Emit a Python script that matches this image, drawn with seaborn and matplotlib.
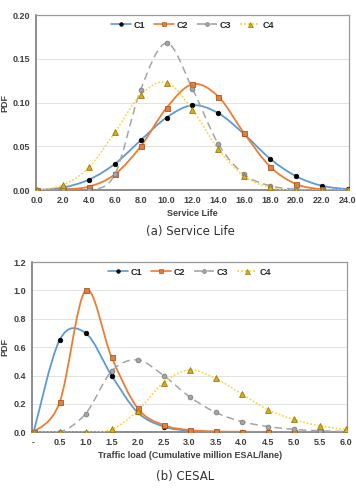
import numpy as np
import pandas as pd
import matplotlib
matplotlib.use('Agg')
import matplotlib.pyplot as plt
import seaborn as sns
from matplotlib.path import Path
from matplotlib.patches import PathPatch
from matplotlib.lines import Line2D

# ---- data ----
series = ['C1', 'C2', 'C3', 'C4']

life_x = [0, 2, 4, 6, 8, 10, 12, 14, 16, 18, 20, 22, 24]
life_c1 = [0.000, 0.003, 0.012, 0.030, 0.057, 0.083, 0.097, 0.088, 0.064, 0.036, 0.016, 0.005, 0.001]
life_c2 = [0.000, 0.001, 0.004, 0.018, 0.050, 0.094, 0.121, 0.107, 0.065, 0.027, 0.007, 0.001, 0.000]
life_c3 = [0.000, 0.000, 0.000, 0.018, 0.115, 0.168, 0.116, 0.053, 0.018, 0.005, 0.001, 0.000, 0.000]
life_c4 = [0.000, 0.006, 0.026, 0.066, 0.109, 0.123, 0.092, 0.047, 0.016, 0.003, 0.000, 0.000, 0.000]
life_ticks = ['0.0', '2.0', '4.0', '6.0', '8.0', '10.0', '12.0', '14.0', '16.0',
              '18.0', '20.0', '22.0', '24.0']

esal_x = [0, 0.5, 1.0, 1.5, 2.0, 2.5, 3.0, 3.5, 4.0, 4.5, 5.0, 5.5, 6.0]
esal_c1 = [0.00, 0.65, 0.70, 0.40, 0.14, 0.04, 0.01, 0.002, 0.0, 0.0, 0.0, 0.0, 0.0]
esal_c2 = [0.00, 0.21, 1.00, 0.53, 0.17, 0.05, 0.015, 0.005, 0.003, 0.002, 0.002, 0.002, 0.002]
esal_c3 = [0.00, 0.00, 0.13, 0.43, 0.51, 0.40, 0.25, 0.14, 0.075, 0.04, 0.02, 0.01, 0.005]
esal_c4 = [0.00, 0.00, 0.00, 0.02, 0.15, 0.35, 0.44, 0.38, 0.27, 0.16, 0.09, 0.045, 0.02]
esal_ticks = ['-', '0.5', '1.0', '1.5', '2.0', '2.5', '3.0', '3.5', '4.0', '4.5', '5.0', '5.5', '6.0']

# styles
line_col = {'C1': '#5B9BD5', 'C2': '#ED7D31', 'C3': '#A5A5A5', 'C4': '#FFD23F'}
line_ls = {'C1': '-', 'C2': '-', 'C3': (0, (5, 3)), 'C4': (0, (1.2, 1.2))}
mk = {'C1': 'o', 'C2': 's', 'C3': 'o', 'C4': '^'}
mk_face = {'C1': '#000000', 'C2': '#E08040', 'C3': '#A5A5A5', 'C4': '#D4AE1E'}
mk_edge = {'C1': '#000000', 'C2': '#B0561E', 'C3': '#7F7F7F', 'C4': '#9C7A0C'}
mk_size = {'C1': 3.2, 'C2': 3.6, 'C3': 3.4, 'C4': 4.2}

sns.set_theme(style='white')
plt.rcParams['font.family'] = ['Liberation Sans', 'DejaVu Sans']
fs = 6.5


def smooth_path(x, y):
    # excel-like smoothed line drawn as cubic bezier segments
    x = np.asarray(x, float)
    y = np.asarray(y, float)
    n = len(x)
    verts = [(x[0], y[0])]
    codes = [Path.MOVETO]
    for i in range(n - 1):
        p0 = np.array([x[max(i - 1, 0)], y[max(i - 1, 0)]])
        p1 = np.array([x[i], y[i]])
        p2 = np.array([x[i + 1], y[i + 1]])
        p3 = np.array([x[min(i + 2, n - 1)], y[min(i + 2, n - 1)]])
        c1 = p1 + (p2 - p0) / 6
        c2 = p2 - (p3 - p1) / 6
        verts += [tuple(c1), tuple(c2), tuple(p2)]
        codes += [Path.CURVE4] * 3
    return Path(verts, codes)


def draw(ax, x, ys, ticks, ymax, ystep, yfmt, xlabel, ylab_x):
    for name, y in zip(series, ys):
        patch = PathPatch(smooth_path(x, y), facecolor='none', edgecolor=line_col[name],
                          lw=1.3 if name in ('C1', 'C2') else 1.1,
                          linestyle=line_ls[name], zorder=3)
        ax.add_patch(patch)
    for name, y in zip(series, ys):
        df = pd.DataFrame({'x': x, 'y': y})
        sns.scatterplot(data=df, x='x', y='y', ax=ax, marker=mk[name],
                        s=mk_size[name] ** 2, color=mk_face[name],
                        edgecolor=mk_edge[name], linewidth=0.6, zorder=4, legend=False)
    ax.set_xlim(x[0], x[-1])
    ax.set_ylim(0, ymax)
    ax.set_xticks(x)
    ax.set_xticklabels(ticks)
    yt = np.arange(0, ymax + ystep / 2, ystep)
    ax.set_yticks(yt)
    ax.set_yticklabels([yfmt.format(v) for v in yt])
    ax.grid(axis='y', color='#E3E3E3', lw=0.7)
    ax.set_axisbelow(True)
    for s in ['top', 'right']:
        ax.spines[s].set_color('#9A9A9A')
        ax.spines[s].set_linewidth(0.9)
    for s in ['left', 'bottom']:
        ax.spines[s].set_color('#6E6E6E')
        ax.spines[s].set_linewidth(1.1)
    ax.tick_params(axis='both', length=0, pad=4, labelsize=fs, colors='#404040')
    for lab in ax.get_xticklabels() + ax.get_yticklabels():
        lab.set_fontweight('bold')
    ax.set_xlabel(xlabel, fontsize=fs, fontweight='bold', color='#404040', labelpad=3)
    ax.set_ylabel('PDF', fontsize=fs, fontweight='bold', color='#404040')
    ax.yaxis.set_label_coords(ylab_x, 0.5)

    handles = [Line2D([0], [0], color=line_col[n], linestyle=line_ls[n], lw=1.2,
                      marker=mk[n], markersize=mk_size[n] - 0.6,
                      markerfacecolor=mk_face[n], markeredgecolor=mk_edge[n],
                      markeredgewidth=0.5) for n in series]
    ax.legend(handles, series, loc='upper center', ncol=4, frameon=False,
              handlelength=2.2, handletextpad=0.3, columnspacing=1.0,
              borderaxespad=0.2, prop={'weight': 'bold', 'size': fs})


fig = plt.figure(figsize=(3.56, 4.90), dpi=100)
ax1 = fig.add_axes([0.101, 0.612, 0.879, 0.357])
ax2 = fig.add_axes([0.090, 0.118, 0.885, 0.347])

draw(ax1, life_x, [life_c1, life_c2, life_c3, life_c4], life_ticks,
     0.20, 0.05, '{:.2f}', 'Service Life', -0.085)
draw(ax2, esal_x, [esal_c1, esal_c2, esal_c3, esal_c4], esal_ticks,
     1.2, 0.2, '{:.1f}', 'Traffic load (Cumulative million ESAL/lane)', -0.073)
ax1.set_xlim(-0.1, 24.1)
ax2.set_xlim(-0.03, 6.03)

fig.text(0.535, 0.527, '(a) Service Life', ha='center', va='center', fontsize=8.5,
         family=['DejaVu Sans'], color='#333333')
fig.text(0.52, 0.027, '(b) CESAL', ha='center', va='center', fontsize=8.5,
         family=['DejaVu Sans'], color='#333333')

fig.savefig('out.png', dpi=100)
